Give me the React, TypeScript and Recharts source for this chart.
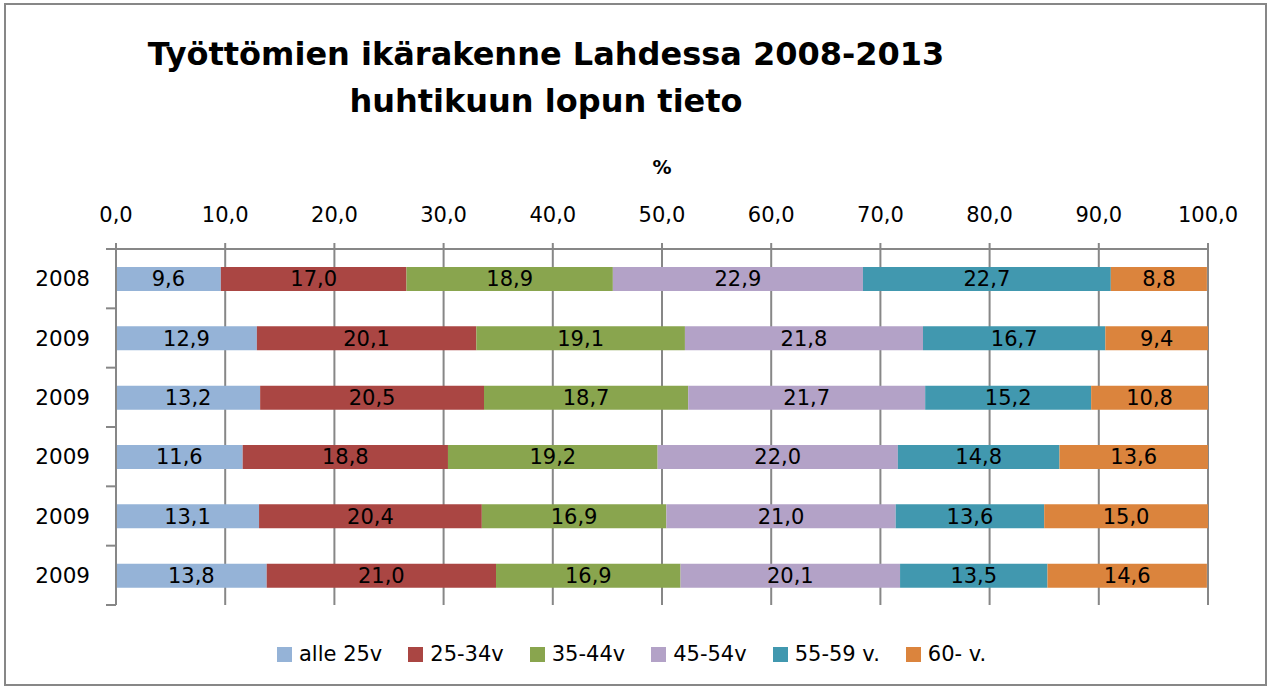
import React from 'react';
import { BarChart, Bar, XAxis, YAxis, CartesianGrid, LabelList } from 'recharts';

const years = ['2008', '2009', '2009', '2009', '2009', '2009'];
const alle25 = [9.6, 12.9, 13.2, 11.6, 13.1, 13.8];
const age25_34 = [17.0, 20.1, 20.5, 18.8, 20.4, 21.0];
const age35_44 = [18.9, 19.1, 18.7, 19.2, 16.9, 16.9];
const age45_54 = [22.9, 21.8, 21.7, 22.0, 21.0, 20.1];
const age55_59 = [22.7, 16.7, 15.2, 14.8, 13.6, 13.5];
const age60 = [8.8, 9.4, 10.8, 13.6, 15.0, 14.6];

const seriesKeys = ['s0', 's1', 's2', 's3', 's4', 's5'];
const seriesNames = ['alle 25v', '25-34v', '35-44v', '45-54v', '55-59 v.', '60- v.'];
const seriesColors = ['#95B3D7', '#AA4643', '#89A54E', '#B3A2C7', '#4198AF', '#DB843D'];
const seriesValues = [alle25, age25_34, age35_44, age45_54, age55_59, age60];

const xTicks = [0, 10, 20, 30, 40, 50, 60, 70, 80, 90, 100];

const titleLine1 = 'Työttömien ikärakenne Lahdessa 2008-2013';
const titleLine2 = 'huhtikuun lopun tieto';
const axisTitle = '%';

const data = years.map((y, i) => {
  const row: Record<string, string | number> = { row: `r${i}`, year: y };
  seriesKeys.forEach((k, j) => {
    row[k] = seriesValues[j][i];
  });
  return row;
});

const fmt = (v: any) => Number(v).toFixed(1).replace('.', ',');

const GRID = '#878787';
const FONT = '"DejaVu Sans", Verdana, sans-serif';
const TICK_LEN = 10;
const LABEL_GAP = 16;

// Category tick: label plus Excel-style tick marks at the band boundaries
const CategoryTick = (props: any) => {
  const { x, y, payload, index } = props;
  const half = payload && payload.offset ? payload.offset : 0;
  const axisX = x + LABEL_GAP;
  const count = years.length;
  return (
    <g>
      <line x1={axisX - TICK_LEN} x2={axisX} y1={y - half} y2={y - half} stroke={GRID} strokeWidth={2} />
      {index === count - 1 && (
        <line x1={axisX - TICK_LEN} x2={axisX} y1={y + half} y2={y + half} stroke={GRID} strokeWidth={2} />
      )}
      <text
        x={x - TICK_LEN}
        y={y}
        dy="0.36em"
        textAnchor="end"
        fill="#000"
        fontSize={21.5}
        fontFamily={FONT}
      >
        {years[index]}
      </text>
    </g>
  );
};

export default function App() {
  return (
    <div style={{ position: 'absolute', left: 0, top: 0, width: 1270, height: 688, background: '#fff' }}>
      <div
        style={{
          position: 'absolute',
          left: 4,
          top: 3,
          width: 1259,
          height: 679,
          border: `2px solid ${GRID}`,
        }}
      />
      <BarChart
        width={1270}
        height={688}
        data={data}
        layout="vertical"
        margin={{ top: 189, right: 62, bottom: 83, left: 10 }}
        barSize={24}
      >
        <CartesianGrid horizontal={false} vertical={true} stroke={GRID} strokeWidth={2} />
        <XAxis
          type="number"
          orientation="top"
          domain={[0, 100]}
          ticks={xTicks}
          allowDataOverflow
          height={60}
          tickSize={6}
          tickMargin={21}
          tickFormatter={fmt}
          axisLine={{ stroke: GRID, strokeWidth: 2 }}
          tickLine={{ stroke: GRID, strokeWidth: 2 }}
          tick={{ fill: '#000', fontSize: 21, fontFamily: FONT }}
          label={{
            value: axisTitle,
            position: 'top',
            offset: 15,
            fill: '#000',
            fontSize: 19,
            fontWeight: 'bold',
            fontFamily: FONT,
          }}
        />
        <YAxis
          type="category"
          dataKey="row"
          width={106}
          axisLine={{ stroke: GRID, strokeWidth: 2 }}
          tickLine={false}
          tickSize={0}
          tickMargin={LABEL_GAP}
          tick={<CategoryTick />}
        />
        {seriesKeys.map((k, j) => (
          <Bar key={k} dataKey={k} name={seriesNames[j]} stackId="a" fill={seriesColors[j]} isAnimationActive={false}>
            <LabelList
              dataKey={k}
              position="center"
              formatter={fmt}
              fill="#000"
              fontSize={21}
              fontFamily={FONT}
            />
          </Bar>
        ))}
      </BarChart>
      <svg
        width={1270}
        height={140}
        style={{ position: 'absolute', left: 0, top: 0, pointerEvents: 'none' }}
      >
        <text x={546} y={65} textAnchor="middle" fontFamily={FONT} fontWeight="bold" fontSize={32} fill="#000">
          {titleLine1}
        </text>
        <text x={546} y={112} textAnchor="middle" fontFamily={FONT} fontWeight="bold" fontSize={32} fill="#000">
          {titleLine2}
        </text>
      </svg>
      <div
        style={{
          position: 'absolute',
          left: 277,
          top: 642,
          display: 'flex',
          alignItems: 'center',
          gap: 26,
          fontFamily: FONT,
          fontSize: 21,
          color: '#000',
          whiteSpace: 'nowrap',
        }}
      >
        {seriesNames.map((n, j) => (
          <div key={n} style={{ display: 'flex', alignItems: 'center', gap: 7 }}>
            <span style={{ display: 'inline-block', width: 15, height: 15, background: seriesColors[j] }} />
            <span>{n}</span>
          </div>
        ))}
      </div>
    </div>
  );
}
